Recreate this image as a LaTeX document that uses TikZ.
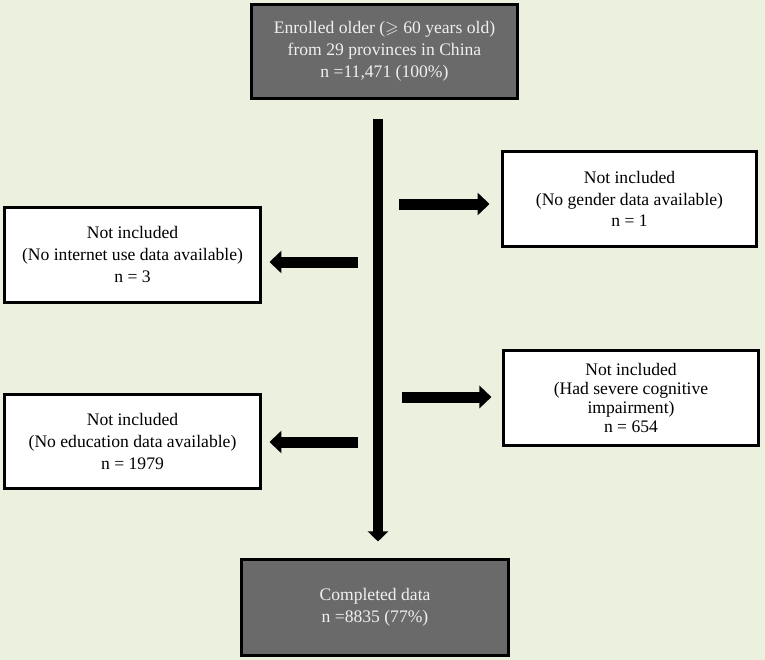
\documentclass[tikz,border=0pt]{standalone}
\usepackage{amssymb}
\usepackage{fontspec}
\setmainfont{Liberation Serif}
\usetikzlibrary{arrows.meta, calc}
\definecolor{cback}{HTML}{EBF1DE}
\definecolor{cdark}{HTML}{6A6A6A}
\tikzset{
  every picture/.style={line width=2.25pt},
  box/.style={draw=black, fill=white, align=center, inner sep=0pt, font=\fontsize{13.2}{16.4}\selectfont},
  darkbox/.style={box, fill=cdark, text=white!94!black},
  fat/.style={-{Triangle[length=9pt, width=16.5pt]}, line width=8.25pt},
  stem/.style={-{Triangle[length=7.5pt, width=15pt]}, line width=7pt},
}

\begin{document}
\begin{tikzpicture}[x=0.75pt, y=-0.75pt]
  % page background
  \fill[cback] (0,0) rectangle (765,660);
  \useasboundingbox (0,0) rectangle (765,660);

  % top and bottom of the flow
  \node[darkbox, minimum width=199.5pt, minimum height=70.5pt] (enrolled) at (384.5,51.5)
    {Enrolled older ($\geqslant$ 60 years old)\\from 29 provinces in China\\n =11,471 (100\%)};
  \node[darkbox, minimum width=200.25pt, minimum height=72pt] (complete) at (375,607.5)
    {Completed data\\n =8835 (77\%)};

  % excluded groups
  \node[box, minimum width=190.5pt, minimum height=71.25pt] (gender) at (629.5,199)
    {Not included\\(No gender data available)\\n = 1};
  \node[box, minimum width=192pt, minimum height=71.25pt] (internet) at (132.5,254.5)
    {Not included\\(No internet use data available)\\n = 3};
  \node[box, minimum width=191.25pt, minimum height=71.25pt, font=\fontsize{13.2}{14.2}\selectfont] (cognition) at (631,398)
    {Not included\\(Had severe cognitive\\impairment)\\n = 654};
  \node[box, minimum width=192pt, minimum height=70.5pt] (education) at (132.5,441.5)
    {Not included\\(No education data available)\\n = 1979};

  % main stem
  \coordinate (stemtop) at (378,119);
  \draw[stem, shorten >=12.4pt] (stemtop) -- (stemtop |- complete.north);

  % side arrows
  \coordinate (a1) at (399,204);
  \coordinate (a2) at (358,262);
  \coordinate (a3) at (402,397);
  \coordinate (a4) at (358,442);
  \draw[fat, shorten >=8.6pt] (a1) -- (a1 -| gender.west);
  \draw[fat, shorten >=5.6pt] (a2) -- (a2 -| internet.east);
  \draw[fat, shorten >=7.9pt] (a3) -- (a3 -| cognition.west);
  \draw[fat, shorten >=5.6pt] (a4) -- (a4 -| education.east);
\end{tikzpicture}
\end{document}
